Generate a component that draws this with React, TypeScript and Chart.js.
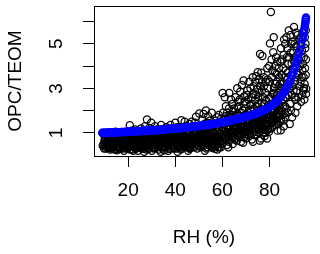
import React, { useEffect, useRef } from 'react';
import { Chart, registerables } from 'chart.js';

Chart.register(...registerables);

// Axis ticks
const xTicks = [20, 40, 60, 80];
const yTicks = [1, 2, 3, 4, 5, 6];
const yTickLabels = ['1', '', '3', '', '5', ''];

// Observations [RH %, OPC/TEOM], grouped by RH range
const obsDry: [number, number][] = [
  [9.2,0.42],[9.8,0.3],[10.3,0.55],[10.6,0.78],[11.1,0.35],[11.5,0.62],[12.0,0.9],[12.3,0.25],[12.8,0.48],[13.2,0.72],
  [13.6,0.95],[14.0,0.38],[14.4,0.58],[14.9,0.82],[15.3,0.22],[15.7,0.5],[16.1,0.7],[16.5,1.0],[16.9,0.33],[17.3,0.6],
  [17.8,0.85],[18.2,0.2],[18.6,0.45],[19.0,0.68],[19.4,0.92],[19.8,0.3],[20.2,0.55],[20.7,1.34],[20.5,0.8],[11.8,0.5],
  [13.0,0.3],[14.7,1.05],[16.3,0.4],[18.0,1.02],[10.0,0.65],[12.5,0.6],[15.0,0.65],[17.5,0.42],[19.2,0.52],[11.2,0.85],[9.6,0.5],
  [21.0,0.4],[21.3,0.65],[21.7,0.25],[22.0,0.88],[22.4,0.5],[22.8,0.32],[23.1,0.72],[23.5,0.98],[23.9,0.45],[24.2,0.2],
  [24.6,0.62],[25.0,0.85],[25.3,0.36],[25.7,0.55],[26.1,1.05],[26.4,0.28],[26.8,0.15],[27.1,0.7],[27.5,0.48],[27.9,0.9],
  [28.0,1.6],[28.3,0.3],[28.7,0.62],[29.0,1.22],[29.2,0.8],[29.6,0.4],[30.0,0.2],[30.3,0.68],[30.7,1.0],[31.1,0.5],
  [31.5,0.32],[31.8,0.78],[32.2,1.15],[32.6,0.45],[33.0,0.25],[33.3,0.62],[33.7,0.9],[34.0,1.35],[34.2,0.38],[34.6,0.72],
  [35.0,0.5],[35.3,0.22],[29.8,1.45],[31.4,1.3],[23.0,1.15],[25.5,1.2],[27.2,1.3],[21.5,1.1],[24.0,0.55],[26.0,0.45],
  [28.5,0.45],[30.5,0.85],[32.0,0.6],[33.8,0.15],[22.2,0.2],
  [9.9,0.88],[10.2,0.4],[10.8,0.95],[11.4,0.5],[11.7,0.75],[12.2,0.42],[12.6,0.82],[13.4,0.55],[13.8,0.8],[14.2,0.25],
  [14.6,0.45],[15.1,0.9],[15.5,0.35],[15.9,0.82],[16.6,0.55],[16.8,0.78],[17.1,0.28],[17.6,0.95],[18.4,0.62],[18.8,0.85],
  [19.6,0.4],[19.9,0.75],[20.4,0.35],[20.9,0.62],[21.2,0.9],[21.9,0.48],[22.6,0.7],[22.9,0.95],[23.3,0.28],[23.7,0.58],
  [24.4,0.8],[24.8,0.42],[25.2,0.95],[25.9,0.68],[26.3,0.88],[26.6,0.5],[27.0,0.35],[27.7,0.62],[28.1,0.8],[28.9,0.28],
  [29.4,0.58],[29.9,0.95],[30.2,0.45],[30.9,0.3],[31.3,0.88],[31.7,0.6],[32.4,0.35],[32.8,0.82],[33.1,0.5],[33.5,1.0],
  [34.4,0.55],[34.8,0.9],[12.9,1.0],[14.1,0.68],[16.0,0.98],[19.3,1.0],[21.6,0.75],[24.1,0.35],[26.7,0.8],[28.8,1.0],
  [30.8,0.6],[33.4,0.4],[35.2,0.8],
  [10.1,0.72],[10.5,0.3],[10.9,0.6],[11.3,0.95],[11.9,0.32],[12.4,0.72],[12.7,0.38],[13.1,0.62],[13.5,0.88],[13.9,0.45],
  [14.3,0.92],[14.8,0.3],[15.2,0.75],[15.6,0.62],[16.2,0.28],[16.4,0.85],[17.0,0.5],[17.4,0.75],[17.9,0.35],[18.3,0.78],
  [18.7,0.3],[19.1,0.85],[19.5,0.62],[20.0,0.9],[20.3,0.48],[20.8,0.25],[21.1,0.78],[21.4,0.52],[21.8,0.95],[22.3,0.62],
  [22.7,0.42],[23.2,0.85],[23.6,0.35],[24.3,0.68],[24.7,0.92],[25.1,0.5],[25.6,0.3],[26.2,0.62],[26.5,0.95],[27.3,0.82],
  [27.8,0.25],[28.2,0.55],[28.6,0.88],[29.1,0.5],[29.5,0.72],[30.1,0.88],[30.4,0.35],[31.0,0.72],[31.6,0.45],[32.1,0.9],
  [32.5,0.6],[32.9,0.38],[33.6,0.72],[34.1,0.85],[34.5,0.3],[34.9,0.65],
];

const obsMid: [number, number][] = [
  [35.7,0.8],[36.0,1.05],[36.4,0.42],[36.8,0.62],[37.2,0.28],[37.5,0.9],[37.9,1.2],[38.3,0.5],[38.6,0.72],[39.0,0.35],
  [39.4,1.0],[39.7,0.58],[40.1,0.85],[40.5,0.3],[40.8,1.25],[41.2,0.65],[41.6,0.45],[42.0,0.95],[42.3,0.25],[42.6,1.57],
  [42.7,0.75],[43.1,1.1],[43.5,0.52],[43.8,0.35],[44.2,0.85],[44.6,1.3],[45.0,0.62],[45.3,0.4],[45.7,1.0],[46.1,0.28],
  [46.5,0.75],[46.8,1.2],[47.2,0.5],[47.6,0.9],[48.0,0.35],[48.3,1.45],[48.7,0.68],[48.8,1.72],[49.1,1.05],[49.5,0.45],
  [49.9,0.82],[50.2,1.87],[50.3,1.25],[38.0,1.35],[40.0,1.45],[44.0,1.5],[46.0,1.4],[37.0,0.2],[41.0,0.15],[45.5,0.2],
  [47.8,0.55],[39.2,0.8],[43.3,0.7],[36.2,1.25],
  [50.6,0.55],[51.0,0.35],[51.3,0.72],[51.7,1.1],[52.1,0.5],[52.4,1.4],[52.8,0.9],[53.0,2.0],[53.2,0.3],[53.5,0.65],
  [53.9,1.2],[54.3,0.45],[54.6,1.55],[55.0,0.85],[55.4,0.38],[55.7,1.05],[56.1,0.6],[56.5,1.35],[56.9,0.28],[57.2,0.95],
  [57.6,1.7],[58.0,0.5],[58.3,1.15],[58.7,0.75],[59.1,1.45],[59.4,0.35],[59.8,0.9],[60.1,1.25],[51.5,1.6],[52.0,1.85],
  [54.0,1.75],[55.5,1.9],[57.0,1.55],[58.5,1.8],[50.8,1.0],[53.7,0.95],[56.0,0.4],[57.9,0.25],[59.5,1.65],[55.2,1.25],
  [52.6,0.2],[54.8,0.55],[56.8,0.75],[58.9,0.55],
  [35.5,0.62],[35.9,0.35],[36.6,0.95],[37.0,0.55],[37.4,0.75],[37.8,0.4],[38.2,0.9],[38.9,0.6],[39.3,0.3],[39.8,0.98],
  [40.3,0.5],[40.6,0.72],[41.0,0.92],[41.4,0.38],[41.8,0.8],[42.5,0.55],[42.9,0.4],[43.4,0.95],[43.9,0.62],[44.4,0.45],
  [44.8,1.05],[45.2,0.82],[45.6,0.55],[46.3,0.95],[46.7,0.42],[47.0,0.68],[47.4,1.1],[47.9,0.8],[48.5,0.5],[48.9,0.95],
  [49.3,0.3],[49.7,0.65],[50.0,1.1],[50.5,0.8],[51.1,0.6],[51.5,0.92],[51.9,0.4],[52.3,0.75],[52.9,1.15],[53.3,0.5],
  [53.8,0.8],[54.1,1.0],[54.5,0.62],[55.1,0.45],[55.6,0.72],[55.9,1.15],[56.3,0.85],[56.7,0.5],[57.4,0.65],[57.8,1.05],
  [58.1,0.35],[58.6,0.95],[59.0,0.68],[59.6,1.1],[59.9,0.5],[38.5,1.05],[42.2,1.15],[45.9,0.32],[49.6,1.3],[53.4,1.45],
  [57.5,1.25],[54.9,1.3],[51.2,1.25],[47.0,1.5],[43.9,1.2],
  [35.8,0.5],[36.3,0.75],[36.9,0.4],[37.3,1.0],[37.7,0.62],[38.1,0.3],[38.7,0.85],[39.1,0.48],[39.6,0.7],[40.2,0.95],
  [40.7,0.55],[41.1,0.35],[41.5,0.85],[42.1,0.62],[42.4,0.95],[42.8,0.3],[43.2,0.8],[43.7,0.45],[44.1,0.7],[44.5,0.95],
  [45.1,0.35],[45.4,0.72],[45.8,0.9],[46.2,0.5],[46.6,0.85],[47.1,0.35],[47.5,0.62],[48.1,0.95],[48.4,0.72],[49.0,0.52],
  [49.4,0.88],[49.8,0.4],[50.4,0.62],[50.9,0.85],[51.4,0.45],[51.8,0.7],[52.2,1.0],[52.7,0.6],[53.1,0.82],[53.6,0.35],
  [54.0,0.6],[54.4,0.9],[54.9,0.75],[55.3,0.58],[55.8,0.32],[56.2,1.0],[56.6,0.65],[57.1,0.42],[57.3,0.8],[57.7,0.58],
  [58.2,0.85],[58.8,0.35],[59.2,0.82],[59.7,0.62],
];

const obsHumid: [number, number][] = [
  [60.1,2.79],[60.5,0.6],[60.8,1.05],[61.2,1.5],[61.5,2.2],[61.9,0.45],[62.2,0.85],[62.6,1.3],[62.9,2.79],[63.0,1.8],
  [63.3,0.7],[63.7,2.5],[64.0,1.1],[64.4,0.5],[64.7,1.6],[65.0,2.1],[65.4,0.9],[65.8,1.35],[66.1,0.65],[66.5,1.85],
  [66.8,2.4],[67.2,1.15],[67.5,0.8],[67.9,0.6],[68.2,1.55],[68.6,2.0],[69.0,3.35],[69.0,1.0],[69.3,2.65],[69.7,1.3],
  [70.0,0.75],[61.0,2.6],[62.0,1.9],[63.5,1.45],[64.2,2.3],[65.2,1.75],[66.0,1.05],[67.0,2.2],[68.0,1.25],[69.5,1.75],
  [60.3,1.9],[62.5,0.35],[64.8,0.8],[66.7,1.5],[68.4,0.9],[61.6,1.2],[63.1,0.95],[65.6,2.6],[67.6,2.85],[68.8,0.55],
  [70.2,2.3],[66.3,3.0],[68.3,3.15],
  [70.4,1.05],[70.7,1.6],[71.0,2.5],[71.3,0.85],[71.6,1.3],[71.9,3.0],[72.2,2.0],[72.5,0.7],[72.8,1.45],[73.1,2.75],
  [73.4,1.1],[73.7,1.85],[74.0,3.3],[74.3,0.9],[74.6,2.2],[74.9,1.35],[75.0,3.72],[75.2,2.6],[75.5,1.0],[75.8,1.7],
  [76.0,4.54],[76.1,3.1],[76.4,0.75],[76.7,2.35],[77.0,1.25],[77.0,4.45],[77.3,1.95],[77.6,3.5],[77.9,0.85],[78.2,2.8],
  [78.5,1.5],[78.8,2.1],[79.1,3.9],[79.4,1.15],[79.7,2.55],[80.0,1.8],[70.6,2.9],[71.8,2.25],[72.9,3.5],[73.8,2.45],
  [74.8,2.95],[75.6,3.4],[76.8,2.9],[77.5,1.0],[78.4,3.3],[79.3,3.0],[79.9,4.0],[71.2,1.9],[73.0,0.6],[74.5,1.65],
  [76.2,1.45],[78.0,1.2],[79.0,0.75],[70.9,1.25],[72.4,1.7],[73.6,1.35],[75.3,2.3],[77.2,2.6],[78.7,1.8],[79.6,2.25],
  [75.9,0.65],[73.3,2.1],[71.5,3.3],[76.5,3.7],
  [60.4,0.95],[60.7,1.4],[61.1,0.75],[61.4,1.75],[61.8,1.0],[62.3,1.6],[62.7,0.6],[63.2,1.25],[63.6,1.05],[63.9,1.8],
  [64.3,0.8],[64.6,1.35],[65.1,1.0],[65.5,1.55],[65.9,0.75],[66.2,1.25],[66.6,1.05],[66.9,1.75],[67.3,0.95],[67.7,1.4],
  [68.1,1.9],[68.5,1.1],[68.9,1.45],[69.2,0.8],[69.6,2.1],[69.9,1.15],[70.3,1.45],[70.8,1.9],[71.1,1.1],[71.4,1.6],
  [71.7,0.95],[72.0,1.35],[72.3,2.3],[72.7,1.2],[73.2,1.6],[73.5,0.9],[73.9,1.55],[74.2,1.2],[74.7,2.0],[75.1,1.55],
  [75.4,1.2],[75.7,2.05],[76.3,1.65],[76.6,1.1],[76.9,1.8],[77.4,1.5],[77.8,2.3],[78.1,1.65],[78.3,1.0],[78.6,2.45],
  [78.9,1.35],[79.2,2.0],[79.5,1.6],[79.8,1.05],[62.8,2.1],[64.5,1.95],[66.4,2.15],[67.4,2.5],[69.4,2.4],[70.5,2.7],
  [72.6,2.6],[74.1,2.7],[75.8,2.8],[77.7,3.1],[79.2,3.4],[76.9,3.3],[74.4,3.55],[73.2,3.1],
  [60.6,1.2],[61.3,0.9],[61.7,1.45],[62.4,1.15],[62.9,0.8],[63.4,1.7],[63.8,0.85],[64.1,1.5],[64.9,1.2],[65.3,0.7],
  [65.7,1.15],[66.3,1.45],[66.8,0.85],[67.1,1.6],[67.8,1.15],[68.3,1.35],[68.7,1.75],[69.1,1.25],[69.8,0.95],[70.1,1.6],
  [70.6,1.3],[71.2,1.45],[71.9,1.15],[72.2,1.6],[72.8,1.0],[73.4,1.45],[73.9,1.05],[74.4,1.4],[74.9,1.8],[75.3,1.45],
  [75.9,1.3],[76.4,1.9],[76.8,1.35],[77.3,1.15],[77.6,1.75],[78.4,1.4],[78.8,1.1],[79.3,1.8],[79.7,1.35],
];

const obsWet: [number, number][] = [
  [80.6,6.43],[80.2,5.02],[80.4,1.2],[80.7,2.6],[81.0,3.5],[81.3,1.6],[81.6,4.62],[81.6,2.1],[81.9,3.0],[82.2,1.35],
  [82.5,4.0],[82.5,2.4],[82.8,1.8],[83.1,3.3],[83.4,1.1],[83.7,2.8],[84.0,3.9],[84.0,2.0],[84.3,1.5],[84.6,4.2],
  [84.6,3.2],[84.8,1.12],[85.0,2.4],[85.3,3.6],[85.6,1.8],[86.0,1.55],[86.0,4.5],[86.3,2.9],[86.6,2.2],[86.9,3.8],
  [80.9,4.3],[81.2,3.8],[82.0,2.8],[83.0,3.65],[83.5,2.3],[84.3,2.6],[85.5,3.0],[86.5,1.9],[80.0,3.3],[82.8,4.4],
  [84.9,4.8],[86.2,5.2],[81.5,1.9],[83.8,1.4],
  [87.2,5.3],[87.2,2.6],[87.5,3.4],[87.8,1.9],[88.0,4.1],[88.2,5.6],[88.4,3.0],[88.7,2.3],[89.0,4.6],[89.3,3.6],
  [89.6,1.7],[89.9,5.1],[90.2,2.9],[90.4,5.76],[90.5,4.2],[90.8,3.3],[91.1,2.5],[91.4,4.9],[91.7,3.7],[92.0,5.4],
  [92.2,2.6],[92.5,4.3],[92.8,3.1],[93.1,5.0],[93.4,2.4],[93.7,3.5],[94.0,3.8],[94.0,5.5],[94.3,2.9],[94.6,4.4],
  [94.9,3.2],[95.2,4.8],[95.5,2.75],[95.6,2.98],[95.4,3.6],[95.0,5.3],[87.6,4.8],[88.6,1.4],[89.5,2.7],[90.0,3.9],
  [91.0,1.9],[91.8,2.2],[93.0,4.0],[93.8,4.7],[94.8,2.5],[95.3,5.0],[88.9,5.4],[90.7,5.0],[92.3,4.6],[94.5,3.5],
  [80.3,1.75],[80.5,2.3],[80.8,1.45],[81.1,2.0],[81.4,2.75],[81.8,1.5],[82.1,2.2],[82.4,3.2],[82.7,1.6],[83.0,2.1],
  [83.2,2.7],[83.6,1.85],[83.9,3.1],[84.2,2.2],[84.5,1.8],[84.7,2.9],[85.1,2.0],[85.4,3.3],[85.8,2.5],[86.1,1.3],
  [86.4,3.5],[86.8,2.6],[87.0,3.1],[87.3,2.1],[87.7,3.7],[88.1,2.7],[88.3,4.4],[88.8,3.3],[89.1,2.0],[89.4,4.1],
  [89.8,3.1],[90.1,4.6],[90.6,2.6],[90.9,4.4],[91.2,3.5],[91.6,2.9],[91.9,4.1],[92.4,3.6],[92.7,5.2],[93.2,3.3],
  [93.5,4.4],[93.9,2.7],[94.2,4.1],[94.7,3.0],[95.1,3.9],[95.5,4.3],[82.3,3.7],[84.1,3.5],[85.9,3.9],[87.4,4.4],
  [89.2,5.0],[91.3,5.5],[93.3,5.3],[95.4,5.6],[86.7,5.0],[85.2,4.3],[83.3,4.2],[81.8,5.3],
  [80.1,1.55],[80.7,1.95],[81.2,1.25],[81.7,1.75],[82.3,2.0],[82.9,1.45],[83.5,1.7],[84.4,2.0],[84.9,1.6],[85.7,2.2],
  [86.6,1.7],
];

// Fitted curve (blue): [RH %, fitted OPC/TEOM]
const fitCurve: [number, number][] = [
  [9,1.00],[9.5,1.00],[10,1.00],[10.5,1.00],[11,1.01],[11.5,1.01],[12,1.01],[12.5,1.01],[13,1.02],[13.5,1.02],
  [14,1.02],[14.5,1.02],[15,1.03],[15.5,1.03],[16,1.03],[16.5,1.03],[17,1.04],[17.5,1.04],[18,1.04],[18.5,1.04],
  [19,1.05],[19.5,1.05],[20,1.05],[20.5,1.05],[21,1.06],[21.5,1.06],[22,1.06],[22.5,1.06],[23,1.07],[23.5,1.07],
  [24,1.07],[24.5,1.07],[25,1.08],[25.5,1.08],[26,1.09],[26.5,1.09],[27,1.09],[27.5,1.10],[28,1.10],[28.5,1.10],
  [29,1.11],[29.5,1.11],[30,1.11],[30.5,1.12],[31,1.12],[31.5,1.12],[32,1.13],[32.5,1.13],[33,1.14],[33.5,1.14],
  [34,1.15],[34.5,1.15],[35,1.15],[35.5,1.16],[36,1.16],[36.5,1.17],[37,1.17],[37.5,1.17],[38,1.18],[38.5,1.18],
  [39,1.19],[39.5,1.19],[40,1.20],[40.5,1.20],[41,1.21],[41.5,1.21],[42,1.22],[42.5,1.22],[43,1.23],[43.5,1.23],
  [44,1.24],[44.5,1.24],[45,1.25],[45.5,1.25],[46,1.26],[46.5,1.26],[47,1.27],[47.5,1.28],[48,1.29],[48.5,1.29],
  [49,1.30],[49.5,1.30],[50,1.31],[50.5,1.32],[51,1.33],[51.5,1.33],[52,1.34],[52.5,1.35],[53,1.35],[53.5,1.36],
  [54,1.37],[54.5,1.38],[55,1.38],[55.5,1.39],[56,1.40],[56.5,1.41],[57,1.42],[57.5,1.43],[58,1.44],[58.5,1.45],
  [59,1.46],[59.5,1.47],[60,1.48],[60.5,1.49],[61,1.50],[61.5,1.51],[62,1.52],[62.5,1.54],[63,1.55],[63.5,1.56],
  [64,1.57],[64.5,1.58],[65,1.60],[65.5,1.61],[66,1.62],[66.5,1.63],[67,1.65],[67.5,1.66],[68,1.67],[68.5,1.68],
  [69,1.70],[69.5,1.71],[70,1.72],[70.5,1.74],[71,1.76],[71.5,1.77],[72,1.79],[72.5,1.81],[73,1.83],[73.5,1.84],
  [74,1.86],[74.5,1.88],[75,1.90],[75.5,1.92],[76,1.94],[76.5,1.97],[77,1.99],[77.5,2.01],[78,2.04],[78.5,2.07],
  [79,2.10],[79.5,2.13],[80,2.16],[80.5,2.20],[81,2.24],[81.5,2.28],[82,2.32],[82.5,2.37],[83,2.42],[83.5,2.47],
  [84,2.52],[84.5,2.58],[85,2.65],[85.5,2.72],[86,2.80],[86.5,2.89],[87,2.98],[87.5,3.08],[88,3.18],[88.5,3.30],
  [89,3.42],[89.5,3.56],[90,3.70],[90.5,3.86],[91,4.02],[91.5,4.19],[92,4.36],[92.5,4.55],[93,4.75],[93.5,4.97],
  [94,5.20],[94.25,5.35],[94.5,5.50],[94.75,5.65],[95,5.80],[95.15,5.90],[95.3,6.00],[95.4,6.10],[95.5,6.18],
];

const FONT = 'Liberation Sans, Arial, sans-serif';

const rPlotPlugin = {
  id: 'rPlot',
  afterDraw(chart: any) {
    const { ctx, chartArea: a, scales } = chart;
    ctx.save();
    ctx.strokeStyle = '#000';
    ctx.lineWidth = 1;
    ctx.strokeRect(Math.round(a.left) + 0.5, Math.round(a.top) + 0.5, Math.round(a.right - a.left), Math.round(a.bottom - a.top));
    ctx.fillStyle = '#000';
    ctx.font = `19px ${FONT}`;
    ctx.textAlign = 'center';
    ctx.textBaseline = 'middle';
    yTicks.forEach((v, i) => {
      const label = yTickLabels[i];
      if (!label) return;
      const y = scales.y.getPixelForValue(v);
      ctx.save();
      ctx.translate(57, y);
      ctx.rotate(-Math.PI / 2);
      ctx.fillText(label, 0, 0);
      ctx.restore();
    });
    ctx.restore();
  },
};

export default function App() {
  const ref = useRef<HTMLCanvasElement | null>(null);
  useEffect(() => {
    if (!ref.current) return;
    const observations = [...obsDry, ...obsMid, ...obsHumid, ...obsWet].map(([x, y]) => ({ x, y }));
    const fit = fitCurve.map(([x, y]) => ({ x, y }));
    const chart = new Chart(ref.current, {
      type: 'scatter',
      data: {
        datasets: [
          {
            label: 'fit',
            data: fit,
            order: 0,
            pointRadius: 3.3,
            pointBorderWidth: 2,
            borderColor: '#0000ff',
            backgroundColor: 'rgba(0,0,0,0)',
            pointBackgroundColor: 'rgba(0,0,0,0)',
            pointBorderColor: '#0000ff',
          },
          {
            label: 'obs',
            data: observations,
            order: 1,
            pointRadius: 3.6,
            pointBorderWidth: 1.25,
            borderColor: '#000',
            backgroundColor: 'rgba(0,0,0,0)',
            pointBackgroundColor: 'rgba(0,0,0,0)',
            pointBorderColor: '#000',
          },
        ],
      },
      options: {
        animation: false,
        responsive: false,
        devicePixelRatio: 1,
        layout: { padding: { left: 0, top: 5, right: 5, bottom: 0 } },
        plugins: { legend: { display: false }, tooltip: { enabled: false } },
        scales: {
          x: {
            type: 'linear',
            min: 5.5,
            max: 98.9,
            afterBuildTicks: (s: any) => { s.ticks = xTicks.map((v) => ({ value: v })); },
            afterFit: (s: any) => { s.height = 98; },
            grid: { drawOnChartArea: false, drawTicks: true, tickLength: 11, color: '#000', lineWidth: 1 },
            border: { display: false },
            ticks: { color: '#000', font: { family: FONT, size: 19 }, padding: 12, maxRotation: 0, autoSkip: false },
            title: { display: true, text: 'RH (%)', color: '#000', font: { family: FONT, size: 19 }, padding: { top: 0, bottom: 5 } },
          },
          y: {
            type: 'linear',
            min: -0.04,
            max: 6.7,
            afterBuildTicks: (s: any) => { s.ticks = yTicks.map((v) => ({ value: v })); },
            afterFit: (s: any) => { s.width = 94; },
            grid: { drawOnChartArea: false, drawTicks: true, tickLength: 11, color: '#000', lineWidth: 1 },
            border: { display: false },
            ticks: { display: false },
            title: { display: true, text: 'OPC/TEOM', color: '#000', font: { family: FONT, size: 19 }, padding: { top: 4, bottom: 0 } },
          },
        },
      },
      plugins: [rPlotPlugin],
    } as any);
    return () => chart.destroy();
  }, []);
  return (
    <div style={{ position: 'absolute', left: 0, top: 0, width: 320, height: 254, background: '#fff' }}>
      <canvas ref={ref} width={320} height={254} style={{ display: 'block' }} />
    </div>
  );
}
